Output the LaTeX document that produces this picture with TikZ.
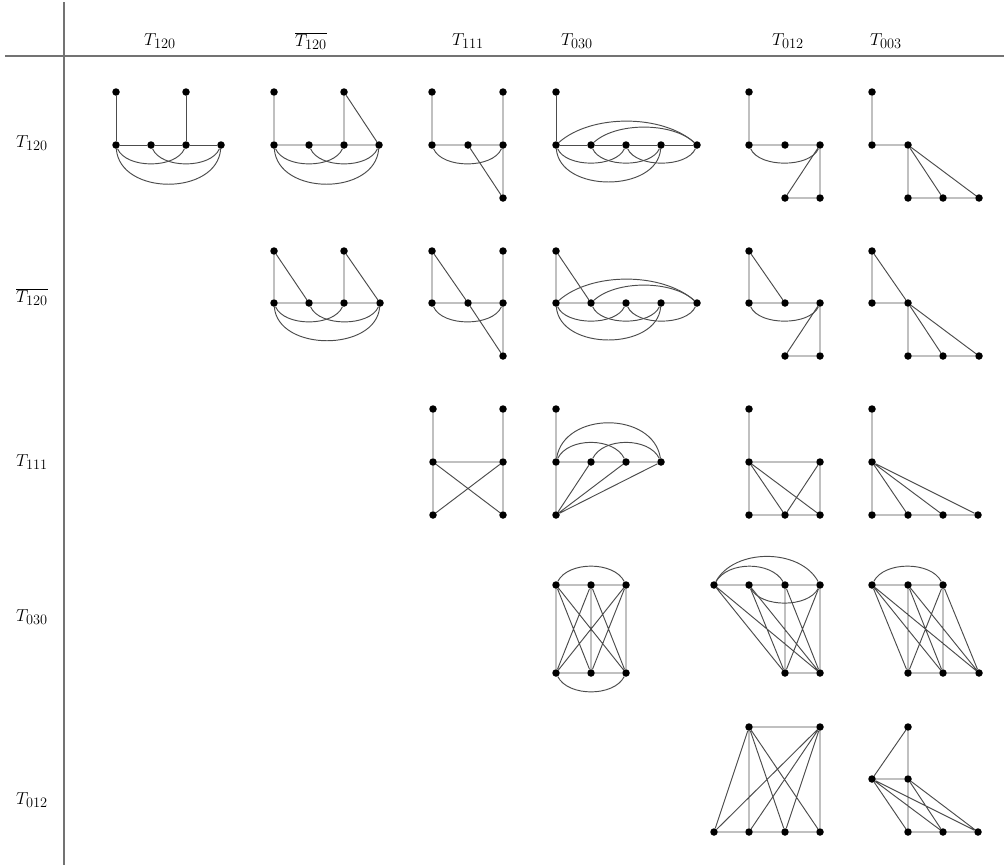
\documentclass[tikz,border=0pt]{standalone}
\usetikzlibrary{calc}
\tikzset{
  dot/.style={circle,fill=black,inner sep=0pt,minimum size=7.5pt},
  edge/.style={draw=black!70,line width=0.95pt},
  rulel/.style={draw=black!55,line width=1.3pt},
  lab/.style={font=\fontsize{19}{22}\selectfont,inner sep=0pt}
}
\newcommand\vx[3]{\node[dot] (#1) at (#2,#3) {};}
\newcommand\myarc[4]{\draw[edge] (#1) .. controls ($(#1)+(#3,#4)$) and ($(#2)+(-#3,#4)$) .. (#2);}
\begin{document}
\begin{tikzpicture}[x=1pt,y=-1pt]
\useasboundingbox (0,0) rectangle (1004,865);
% table rules
\coordinate (vt) at (64,2); \coordinate (vb) at (64,865);
\coordinate (hl) at (5,56); \coordinate (hr) at (1004,56);
\draw[rulel] (vt) -- (vb);
\draw[rulel] (hl) -- (hr);
% headers
\node[lab] (h1) at (160,41) {$T_{120}$};
\node[lab] (h2) at (311,41) {$\overline{T_{120}}$};
\node[lab] (h3) at (468,41) {$T_{111}$};
\node[lab] (h4) at (577,41) {$T_{030}$};
\node[lab] (h5) at (788,41) {$T_{012}$};
\node[lab] (h6) at (886,41) {$T_{003}$};
\node[lab] (v1) at (32,143) {$T_{120}$};
\node[lab] (v2) at (32,297) {$\overline{T_{120}}$};
\node[lab] (v3) at (32,462) {$T_{111}$};
\node[lab] (v4) at (32,617) {$T_{030}$};
\node[lab] (v5) at (32,800) {$T_{012}$};

% ---------- Row 1 ----------
\vx{Aa}{116}{92}\vx{Ab}{186}{92}\vx{Ac}{116}{145}\vx{Ad}{151}{145}\vx{Ae}{186}{145}\vx{Af}{221}{145}
\draw[edge] (Aa)--(Ac) (Ab)--(Ae) (Ac)--(Ad)--(Ae)--(Af);
\myarc{Ac}{Ae}{10}{24}\myarc{Ad}{Af}{10}{24}\myarc{Ac}{Af}{4}{51}

\vx{Ba}{274}{92}\vx{Bb}{344}{92}\vx{Bc}{274}{145}\vx{Bd}{309}{145}\vx{Be}{344}{145}\vx{Bf}{379}{145}
\draw[edge] (Ba)--(Bc) (Bb)--(Be) (Bb)--(Bf) (Bc)--(Bd)--(Be)--(Bf);
\myarc{Bc}{Be}{10}{24}\myarc{Bd}{Bf}{10}{24}\myarc{Bc}{Bf}{4}{51}

\vx{Ca}{432}{92}\vx{Cb}{503}{92}\vx{Cc}{432}{145}\vx{Cd}{468}{145}\vx{Ce}{503}{145}\vx{Cg}{503}{198}
\draw[edge] (Ca)--(Cc) (Cb)--(Ce)--(Cg) (Cc)--(Cd)--(Ce) (Cd)--(Cg);
\myarc{Cc}{Ce}{10}{24}

\vx{Da}{556}{92}\vx{Dc}{556}{145}\vx{Dd}{591}{145}\vx{De}{626}{145}\vx{Df}{661}{145}\vx{Dg}{697}{145}
\draw[edge] (Da)--(Dc) (Dc)--(Dd)--(De)--(Df)--(Dg);
\myarc{Dc}{Dg}{35}{-31}\myarc{Dd}{Dg}{25}{-23}
\myarc{Dc}{De}{10}{23}\myarc{Dd}{Df}{10}{23}\myarc{De}{Dg}{10}{23}\myarc{Dc}{Df}{4}{48}

\vx{Ea}{749}{92}\vx{Ec}{749}{145}\vx{Ed}{785}{145}\vx{Ee}{820}{145}\vx{Ef}{785}{198}\vx{Eg}{820}{198}
\draw[edge] (Ea)--(Ec) (Ec)--(Ed)--(Ee) (Ee)--(Eg) (Ee)--(Ef) (Ef)--(Eg);
\myarc{Ec}{Ee}{10}{23}

\vx{Fa}{872}{92}\vx{Fc}{872}{145}\vx{Fd}{908}{145}\vx{Ff}{908}{198}\vx{Fg}{943}{198}\vx{Fh}{979}{198}
\draw[edge] (Fa)--(Fc) (Fc)--(Fd) (Fd)--(Ff) (Fd)--(Fg) (Fd)--(Fh) (Ff)--(Fg)--(Fh);

% ---------- Row 2 ----------
\vx{Ga}{274}{251}\vx{Gb}{344}{251}\vx{Gc}{274}{303}\vx{Gd}{309}{303}\vx{Ge}{344}{303}\vx{Gf}{380}{303}
\draw[edge] (Ga)--(Gc) (Ga)--(Gd) (Gb)--(Ge) (Gb)--(Gf) (Gc)--(Gd)--(Ge)--(Gf);
\myarc{Gc}{Ge}{10}{24}\myarc{Gd}{Gf}{10}{24}\myarc{Gc}{Gf}{4}{49}

\vx{Ha}{432}{251}\vx{Hb}{503}{251}\vx{Hc}{432}{303}\vx{Hd}{468}{303}\vx{He}{503}{303}\vx{Hg}{503}{356}
\draw[edge] (Ha)--(Hc) (Ha)--(Hd) (Hd)--(Hg) (Hb)--(He)--(Hg) (Hc)--(Hd)--(He);
\myarc{Hc}{He}{10}{24}

\vx{Ia}{556}{251}\vx{Ic}{556}{303}\vx{Id}{591}{303}\vx{Ie}{626}{303}\vx{If}{661}{303}\vx{Ig}{697}{303}
\draw[edge] (Ia)--(Ic) (Ia)--(Id) (Ic)--(Id)--(Ie)--(If)--(Ig);
\myarc{Ic}{Ig}{35}{-31}\myarc{Id}{Ig}{25}{-23}
\myarc{Ic}{Ie}{10}{23}\myarc{Id}{If}{10}{23}\myarc{Ie}{Ig}{10}{23}\myarc{Ic}{If}{4}{48}

\vx{Ja}{749}{251}\vx{Jc}{749}{303}\vx{Jd}{785}{303}\vx{Je}{820}{303}\vx{Jf}{785}{356}\vx{Jg}{820}{356}
\draw[edge] (Ja)--(Jc) (Ja)--(Jd) (Jc)--(Jd)--(Je) (Je)--(Jg) (Je)--(Jf) (Jf)--(Jg);
\myarc{Jc}{Je}{10}{23}

\vx{Ka}{872}{251}\vx{Kc}{872}{303}\vx{Kd}{908}{303}\vx{Kf}{908}{356}\vx{Kg}{943}{356}\vx{Kh}{979}{356}
\draw[edge] (Ka)--(Kc) (Ka)--(Kd) (Kc)--(Kd) (Kd)--(Kf) (Kd)--(Kg) (Kd)--(Kh) (Kf)--(Kg)--(Kh);

% ---------- Row 3 ----------
\vx{La}{433}{409}\vx{Lb}{503}{409}\vx{Lc}{433}{462}\vx{Ld}{503}{462}\vx{Le}{433}{515}\vx{Lf}{503}{515}
\draw[edge] (La)--(Lc)--(Le) (Lb)--(Ld)--(Lf) (Lc)--(Ld) (Lc)--(Lf) (Ld)--(Le);

\vx{Ma}{556}{409}\vx{Mc}{556}{462}\vx{Md}{591}{462}\vx{Me}{626}{462}\vx{Mf}{661}{462}\vx{Mg}{556}{515}
\draw[edge] (Ma)--(Mc)--(Mg) (Mc)--(Md)--(Me)--(Mf) (Mg)--(Md) (Mg)--(Me) (Mg)--(Mf);
\myarc{Mc}{Mf}{8}{-51}\myarc{Mc}{Me}{12}{-25}\myarc{Md}{Mf}{12}{-25}

\vx{Na}{749}{409}\vx{Nc}{749}{462}\vx{Nd}{820}{462}\vx{Ne}{749}{515}\vx{Nf}{785}{515}\vx{Ng}{820}{515}
\draw[edge] (Na)--(Nc)--(Ne) (Nc)--(Nd)--(Ng) (Ne)--(Nf)--(Ng) (Nc)--(Nf) (Nc)--(Ng) (Nd)--(Nf);

\vx{Oa}{872}{409}\vx{Oc}{872}{462}\vx{Oe}{872}{515}\vx{Of}{908}{515}\vx{Og}{943}{515}\vx{Oh}{978}{515}
\draw[edge] (Oa)--(Oc)--(Oe) (Oe)--(Of)--(Og)--(Oh) (Oc)--(Of) (Oc)--(Og) (Oc)--(Oh);

% ---------- Row 4 ----------
\vx{Pt1}{556}{585}\vx{Pt2}{591}{585}\vx{Pt3}{626}{585}\vx{Pb1}{556}{673}\vx{Pb2}{591}{673}\vx{Pb3}{626}{673}
\draw[edge] (Pt1)--(Pt2)--(Pt3) (Pb1)--(Pb2)--(Pb3)
  (Pt1)--(Pb1) (Pt1)--(Pb2) (Pt1)--(Pb3)
  (Pt2)--(Pb1) (Pt2)--(Pb2) (Pt2)--(Pb3)
  (Pt3)--(Pb1) (Pt3)--(Pb2) (Pt3)--(Pb3);
\myarc{Pt1}{Pt3}{12}{-24}\myarc{Pb1}{Pb3}{12}{24}

\vx{Qt1}{714}{585}\vx{Qt2}{749}{585}\vx{Qt3}{785}{585}\vx{Qt4}{820}{585}\vx{Qb3}{785}{673}\vx{Qb4}{820}{673}
\draw[edge] (Qt1)--(Qt2)--(Qt3)--(Qt4) (Qb3)--(Qb4)
  (Qt1)--(Qb3) (Qt1)--(Qb4) (Qt2)--(Qb3) (Qt2)--(Qb4)
  (Qt3)--(Qb3) (Qt3)--(Qb4) (Qt4)--(Qb3) (Qt4)--(Qb4);
\myarc{Qt1}{Qt4}{20}{-37}\myarc{Qt1}{Qt3}{14}{-24}\myarc{Qt2}{Qt4}{12}{23}

\vx{Rt1}{872}{585}\vx{Rt2}{908}{585}\vx{Rt3}{943}{585}\vx{Rb2}{908}{673}\vx{Rb3}{943}{673}\vx{Rb4}{979}{673}
\draw[edge] (Rt1)--(Rt2)--(Rt3) (Rb2)--(Rb3)--(Rb4)
  (Rt1)--(Rb2) (Rt1)--(Rb3) (Rt1)--(Rb4)
  (Rt2)--(Rb2) (Rt2)--(Rb3) (Rt2)--(Rb4)
  (Rt3)--(Rb2) (Rt3)--(Rb3) (Rt3)--(Rb4);
\myarc{Rt1}{Rt3}{12}{-24}

% ---------- Row 5 ----------
\vx{St2}{749}{727}\vx{St4}{820}{727}\vx{Sb1}{714}{832}\vx{Sb2}{749}{832}\vx{Sb3}{785}{832}\vx{Sb4}{820}{832}
\draw[edge] (St2)--(St4) (Sb1)--(Sb2)--(Sb3)--(Sb4)
  (St2)--(Sb1) (St2)--(Sb2) (St2)--(Sb3) (St2)--(Sb4)
  (St4)--(Sb1) (St4)--(Sb2) (St4)--(Sb3) (St4)--(Sb4);

\vx{Ut}{908}{727}\vx{Um1}{872}{779}\vx{Um2}{908}{779}\vx{Ub2}{908}{832}\vx{Ub3}{943}{832}\vx{Ub4}{978}{832}
\draw[edge] (Um1)--(Ut) (Ut)--(Um2)--(Ub2) (Um1)--(Um2)
  (Um1)--(Ub2) (Um1)--(Ub3) (Um1)--(Ub4) (Um2)--(Ub3) (Um2)--(Ub4)
  (Ub2)--(Ub3)--(Ub4);
\end{tikzpicture}
\end{document}
